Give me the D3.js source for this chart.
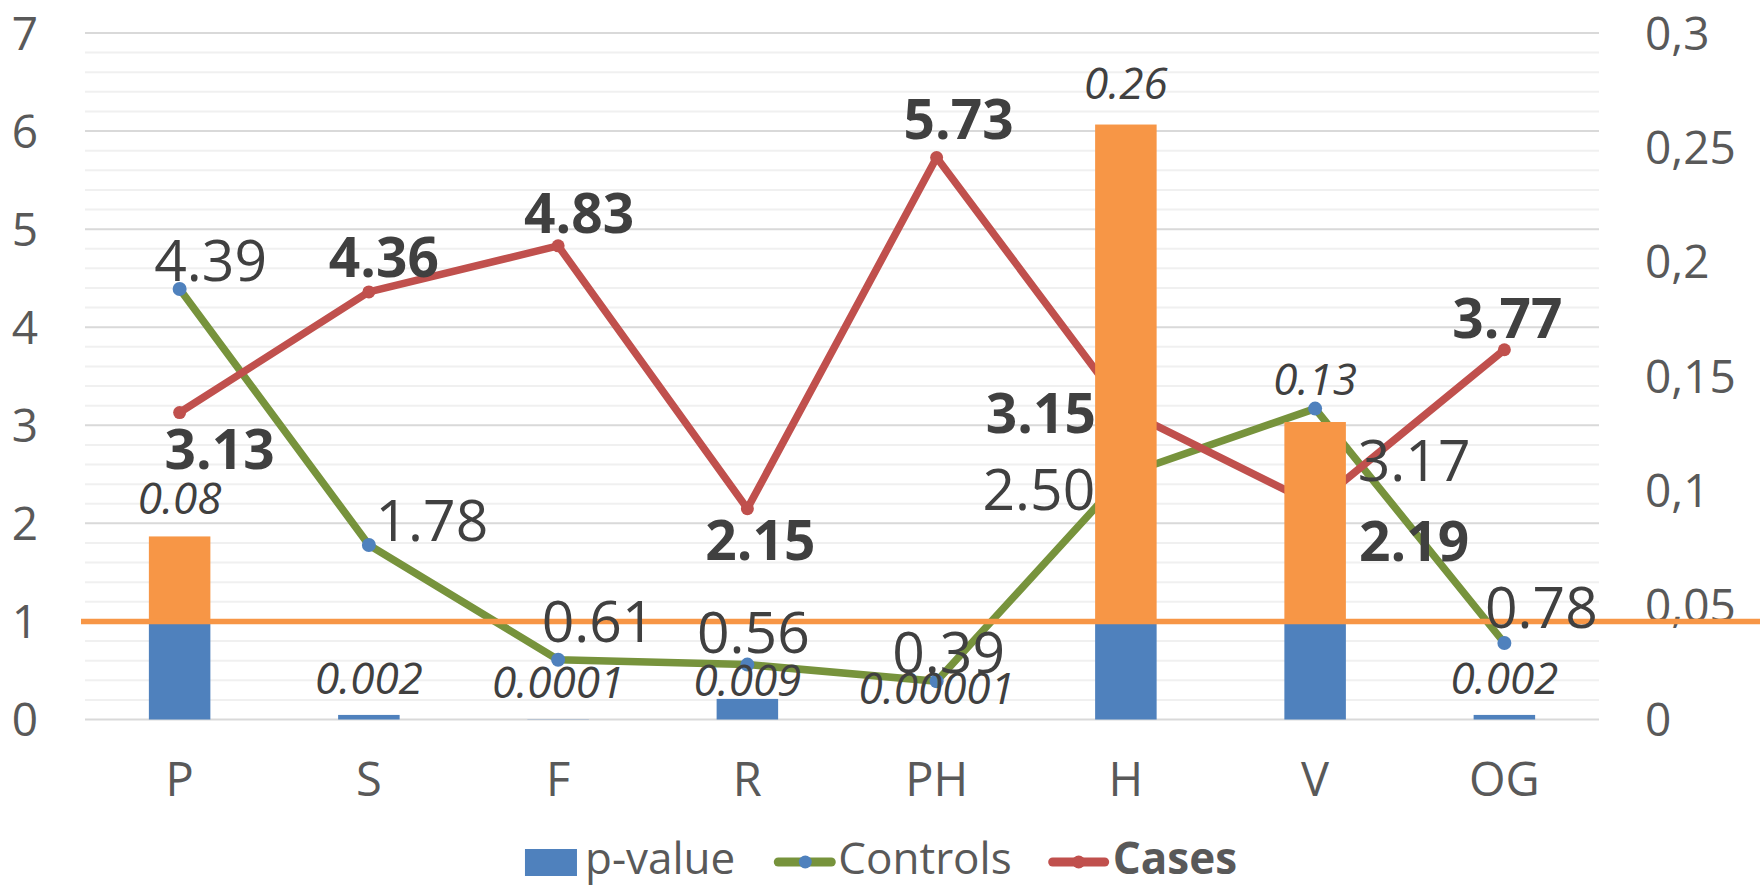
<!DOCTYPE html>
<html>
<head>
<meta charset="utf-8">
<script src="https://cdn.jsdelivr.net/npm/d3@7"></script>
<style>
  body { margin: 0; background: #fff; }
  text { font-family: "Open Sans", "Noto Sans", sans-serif; }
</style>
</head>
<body>
<div id="chart"></div>
<script>
// Data
var categories = ["P", "S", "F", "R", "PH", "H", "V", "OG"];
var pValues = [0.08, 0.002, 0.0001, 0.009, 0.00001, 0.26, 0.13, 0.002];
var pLabels = ["0.08", "0.002", "0.0001", "0.009", "0.00001", "0.26", "0.13", "0.002"];
var controls = [4.39, 1.78, 0.61, 0.56, 0.39, 2.50, 3.17, 0.78];
var cases = [3.13, 4.36, 4.83, 2.15, 5.73, 3.15, 2.19, 3.77];
var leftTicks = [0, 1, 2, 3, 4, 5, 6, 7];
var rightTicks = [0, 0.05, 0.1, 0.15, 0.2, 0.25, 0.3];
var cutLine = 1; // orange line, on the left axis

// hand placed label nudges in the original (px)
var controlsNudge = [[31, -28], [63, -24], [40, -38], [6, -32], [12, -29], [-87, 15], [99, 52], [37, -36]];
var casesNudge = [[40, 37], [15, -35], [21, -33], [13, 32], [22, -38], [-85, 3], [99, 36], [3, -32]];
var pNudge = [-38, -37, -37, -19, -31, -41, -43, -37];

var width = 1763, height = 885;
var blue = "#4F81BD", orange = "#F79646", green = "#77933C", red = "#C0504D";

var svg = d3.select("#chart")
  .append("svg")
  .attr("width", width)
  .attr("height", height);

var x = d3.scaleBand()
  .domain(categories)
  .range([85, 1599])
  .padding(0);

var yL = d3.scaleLinear()
  .domain([0, 7])
  .range([719.5, 33]);

var yR = d3.scaleLinear()
  .domain([0, 0.3])
  .range([719.5, 33]);

var cx = function(i) { return x(categories[i]) + x.bandwidth() / 2; };

// gridlines: minor every 0.2, major every 1
var minor = d3.range(0, 7.01, 0.2).filter(function(v) { return Math.abs(v - Math.round(v)) > 0.01; });
svg.append("g").selectAll("line")
  .data(minor)
  .enter()
  .append("line")
  .attr("x1", 85).attr("x2", 1599)
  .attr("y1", function(d) { return yL(d); })
  .attr("y2", function(d) { return yL(d); })
  .attr("stroke", "#f0f0f0")
  .attr("stroke-width", 2);

svg.append("g").selectAll("line")
  .data(leftTicks)
  .enter()
  .append("line")
  .attr("x1", 85).attr("x2", 1599)
  .attr("y1", function(d) { return yL(d); })
  .attr("y2", function(d) { return yL(d); })
  .attr("stroke", "#d9d9d9")
  .attr("stroke-width", 2);

// axis labels
svg.append("g").selectAll("text")
  .data(leftTicks)
  .enter()
  .append("text")
  .attr("x", 25)
  .attr("y", function(d) { return yL(d); })
  .attr("dy", "0.36em")
  .attr("text-anchor", "middle")
  .attr("font-size", 46)
  .attr("fill", "#595959")
  .text(function(d) { return d; });

svg.append("g").selectAll("text")
  .data(rightTicks)
  .enter()
  .append("text")
  .attr("x", 1645)
  .attr("y", function(d) { return yR(d); })
  .attr("dy", "0.36em")
  .attr("font-size", 46)
  .attr("fill", "#595959")
  .text(function(d) { return String(d).replace(".", ","); });

svg.append("g").selectAll("text")
  .data(categories)
  .enter()
  .append("text")
  .attr("x", function(d) { return x(d) + x.bandwidth() / 2; })
  .attr("y", 779)
  .attr("dy", "0.36em")
  .attr("text-anchor", "middle")
  .attr("font-size", 47)
  .attr("fill", "#595959")
  .text(function(d) { return d; });

// lines (drawn under the bars, which sit on the secondary axis)
var valueLine = d3.line()
  .x(function(d, i) { return cx(i); })
  .y(function(d) { return yL(d); });

svg.append("path")
  .datum(controls)
  .attr("d", valueLine)
  .attr("fill", "none")
  .attr("stroke", green)
  .attr("stroke-width", 7.5)
  .attr("stroke-linejoin", "round");

svg.append("path")
  .datum(cases)
  .attr("d", valueLine)
  .attr("fill", "none")
  .attr("stroke", red)
  .attr("stroke-width", 7.5)
  .attr("stroke-linejoin", "round");

svg.append("g").selectAll("circle")
  .data(controls)
  .enter()
  .append("circle")
  .attr("cx", function(d, i) { return cx(i); })
  .attr("cy", function(d) { return yL(d); })
  .attr("r", 7)
  .attr("fill", blue);

svg.append("g").selectAll("circle")
  .data(cases)
  .enter()
  .append("circle")
  .attr("cx", function(d, i) { return cx(i); })
  .attr("cy", function(d) { return yL(d); })
  .attr("r", 6.5)
  .attr("fill", red);

// p-value bars: blue up to the cut line, orange above it
var pCut = yR.invert(yL(cutLine));
var barW = x.bandwidth() * 0.325;

svg.append("g").selectAll("rect")
  .data(pValues)
  .enter()
  .append("rect")
  .attr("x", function(d, i) { return cx(i) - barW / 2; })
  .attr("y", function(d) { return yR(Math.min(d, pCut)); })
  .attr("width", barW)
  .attr("height", function(d) { return yR(0) - yR(Math.min(d, pCut)); })
  .attr("fill", blue);

svg.append("g").selectAll("rect")
  .data(pValues.map(function(d, i) { return { p: d, i: i }; }).filter(function(d) { return d.p > pCut; }))
  .enter()
  .append("rect")
  .attr("x", function(d) { return cx(d.i) - barW / 2; })
  .attr("y", function(d) { return yR(d.p); })
  .attr("width", barW)
  .attr("height", function(d) { return yR(pCut) - yR(d.p); })
  .attr("fill", orange);

// orange cut line
svg.append("line")
  .attr("x1", 81).attr("x2", 1760)
  .attr("y1", yL(cutLine)).attr("y2", yL(cutLine))
  .attr("stroke", orange)
  .attr("stroke-width", 5.5);

// data labels
svg.append("g").selectAll("text")
  .data(pValues)
  .enter()
  .append("text")
  .attr("x", function(d, i) { return cx(i); })
  .attr("y", function(d, i) { return yR(d) + pNudge[i]; })
  .attr("dy", "0.36em")
  .attr("text-anchor", "middle")
  .attr("font-size", 44)
  .attr("font-style", "italic")
  .attr("fill", "#404040")
  .text(function(d, i) { return pLabels[i]; });

svg.append("g").selectAll("text")
  .data(controls)
  .enter()
  .append("text")
  .attr("x", function(d, i) { return cx(i) + controlsNudge[i][0]; })
  .attr("y", function(d, i) { return yL(d) + controlsNudge[i][1]; })
  .attr("dy", "0.36em")
  .attr("text-anchor", "middle")
  .attr("font-size", 57)
  .attr("fill", "#404040")
  .text(function(d) { return d3.format(".2f")(d); });

svg.append("g").selectAll("text")
  .data(cases)
  .enter()
  .append("text")
  .attr("x", function(d, i) { return cx(i) + casesNudge[i][0]; })
  .attr("y", function(d, i) { return yL(d) + casesNudge[i][1]; })
  .attr("dy", "0.36em")
  .attr("text-anchor", "middle")
  .attr("font-size", 55)
  .attr("font-weight", "bold")
  .attr("fill", "#404040")
  .text(function(d) { return d3.format(".2f")(d); });

// legend, laid out left to right and centred
var legend = svg.append("g");
var ly = 862;
var lx = 0;

legend.append("rect")
  .attr("x", lx).attr("y", ly - 13)
  .attr("width", 52).attr("height", 27)
  .attr("fill", blue);
lx += 60;
var t1 = legend.append("text")
  .attr("x", lx).attr("y", 874)
  .attr("font-size", 44).attr("fill", "#595959")
  .text("p-value");
lx += t1.node().getComputedTextLength() + 39;

legend.append("line")
  .attr("x1", lx + 4).attr("x2", lx + 57).attr("y1", ly).attr("y2", ly)
  .attr("stroke", green).attr("stroke-width", 9).attr("stroke-linecap", "round");
legend.append("circle")
  .attr("cx", lx + 31).attr("cy", ly).attr("r", 6.5).attr("fill", blue);
lx += 64;
var t2 = legend.append("text")
  .attr("x", lx).attr("y", 874)
  .attr("font-size", 44).attr("fill", "#595959")
  .text("Controls");
lx += t2.node().getComputedTextLength() + 37;

legend.append("line")
  .attr("x1", lx + 4).attr("x2", lx + 56).attr("y1", ly).attr("y2", ly)
  .attr("stroke", red).attr("stroke-width", 9).attr("stroke-linecap", "round");
legend.append("circle")
  .attr("cx", lx + 30).attr("cy", ly).attr("r", 6.5).attr("fill", red);
lx += 64;
var t3 = legend.append("text")
  .attr("x", lx).attr("y", 874)
  .attr("font-size", 44).attr("font-weight", "bold").attr("fill", "#595959")
  .text("Cases");
lx += t3.node().getComputedTextLength();

legend.attr("transform", "translate(" + (881 - lx / 2) + ",0)");
</script>
</body>
</html>
